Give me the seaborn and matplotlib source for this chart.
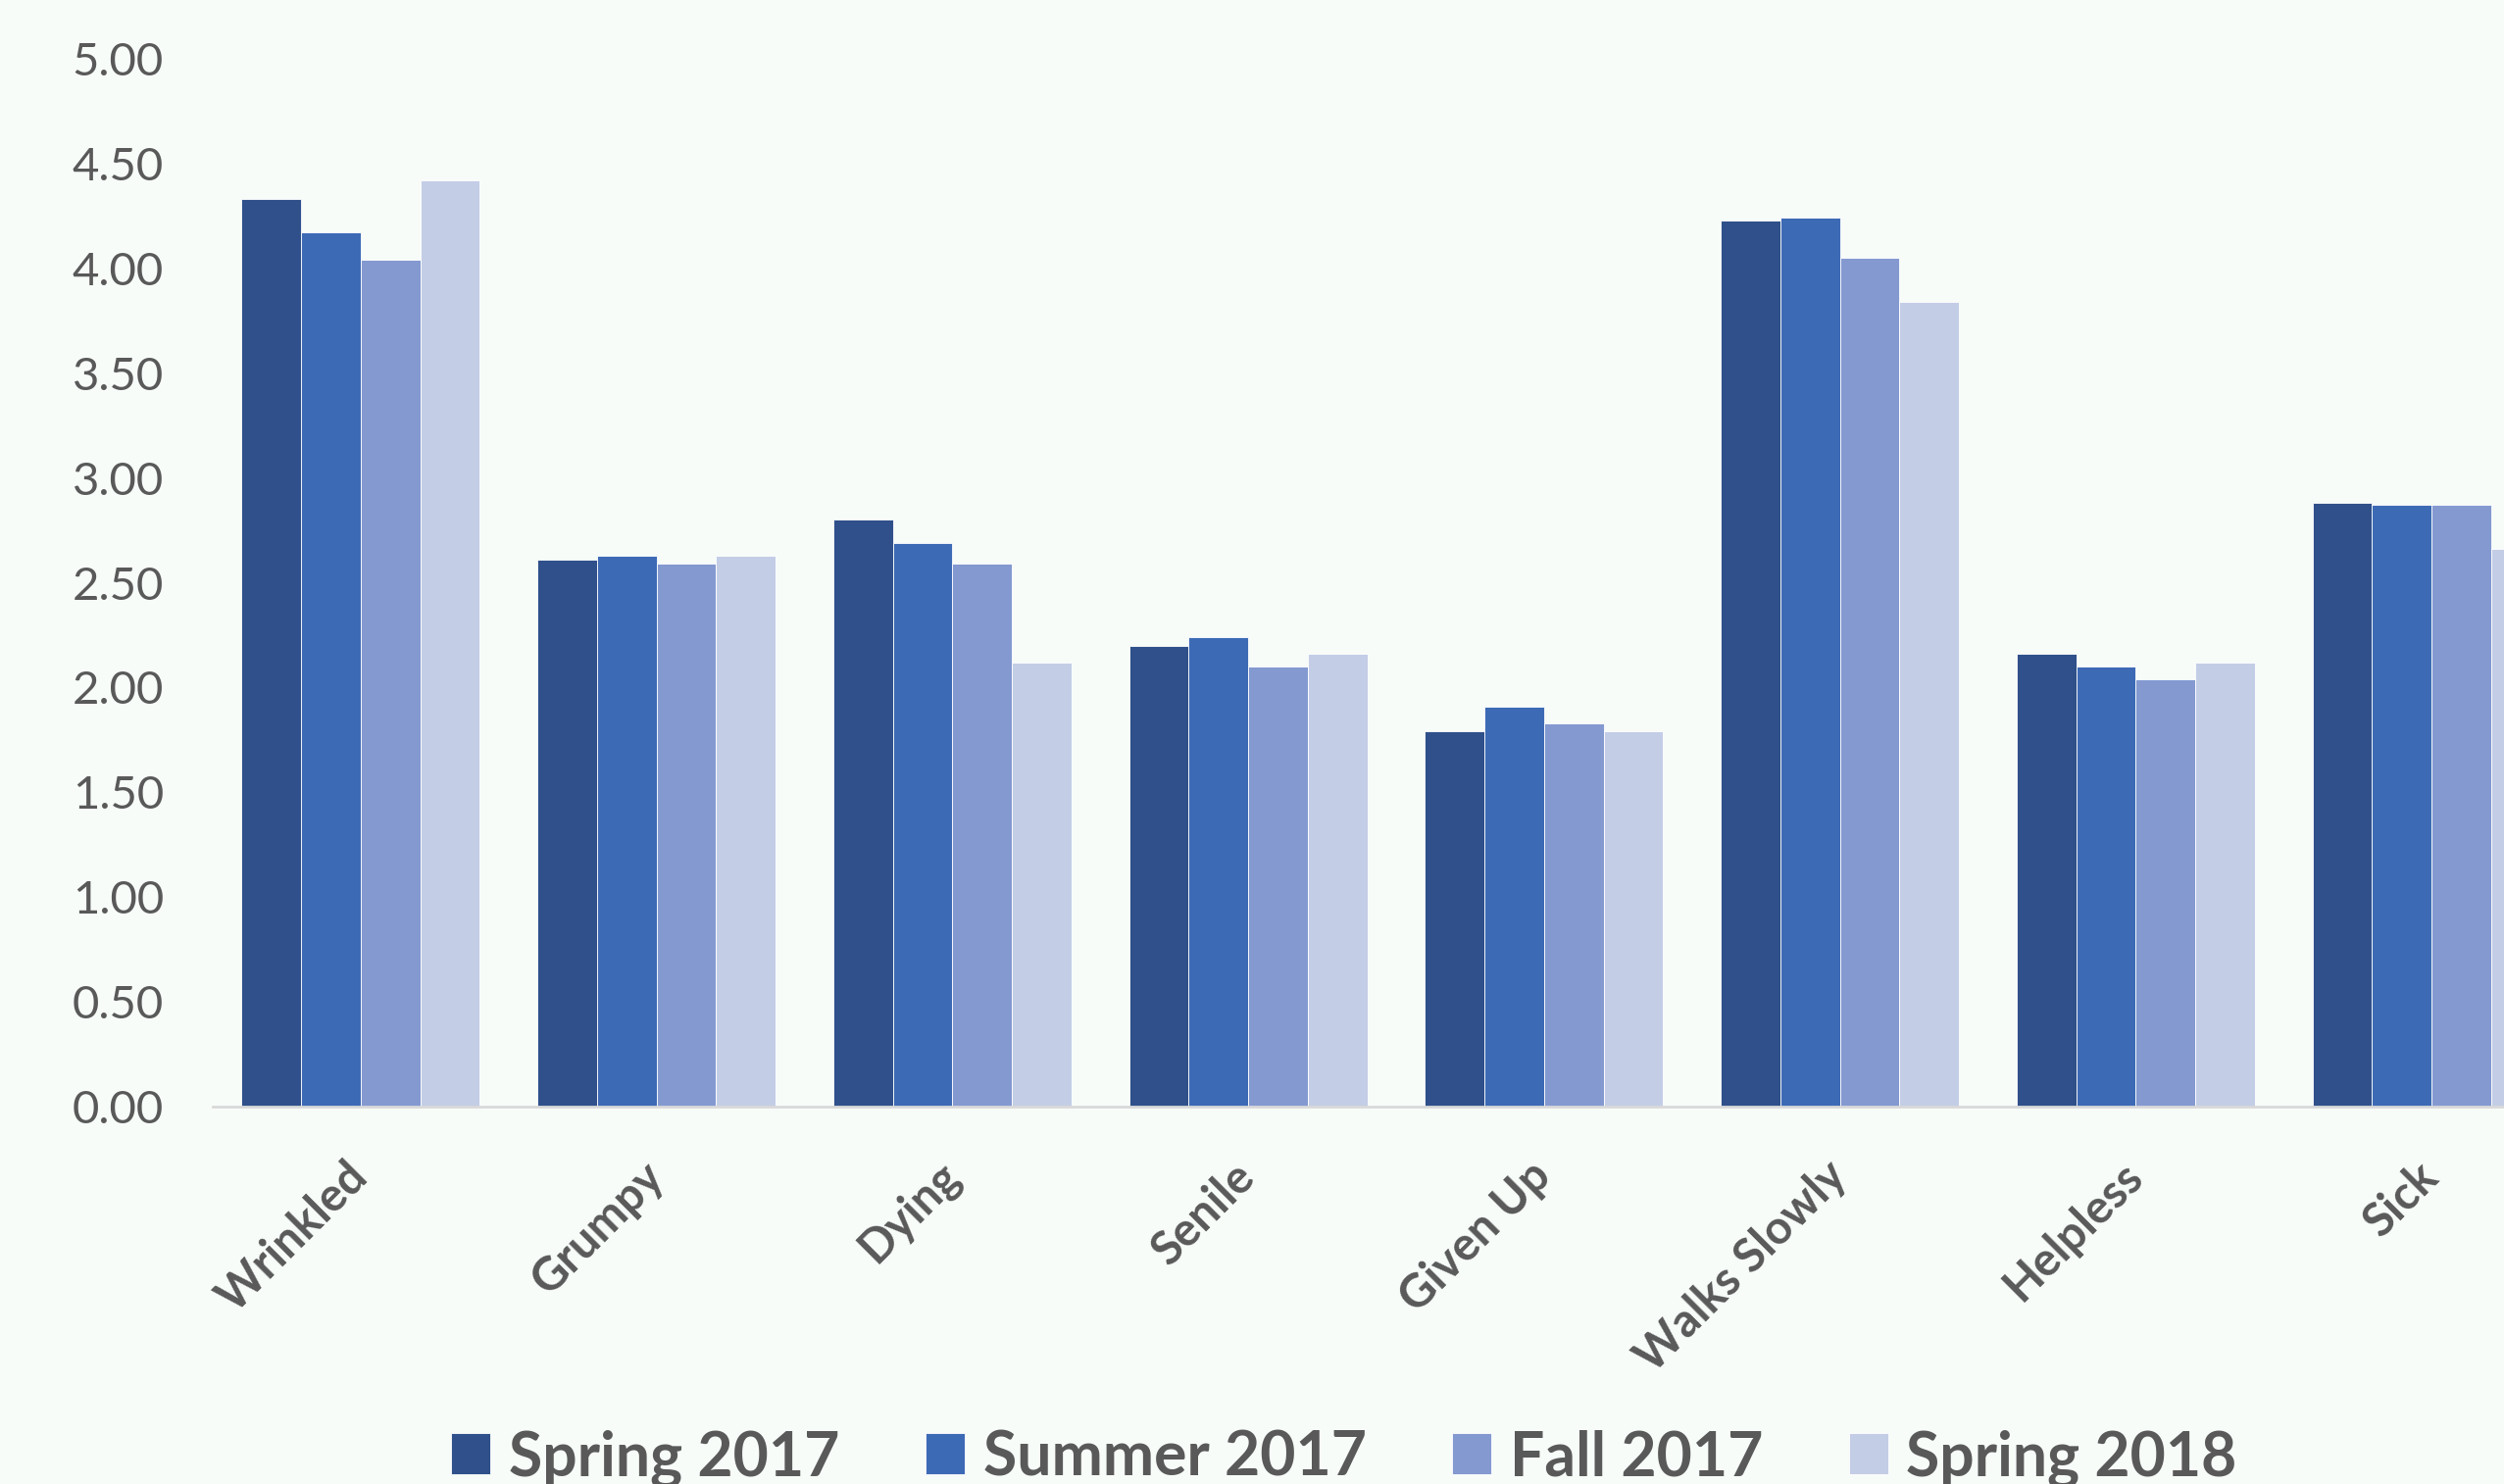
import pandas as pd
import seaborn as sns
import matplotlib.pyplot as plt

categories = ['Wrinkled', 'Grumpy', 'Dying', 'Senile', 'Given Up', 'Walks Slowly', 'Helpless', 'Sick']
terms = ['Spring 2017', 'Summer 2017', 'Fall 2017', 'Spring 2018']
spring_2017 = [4.33, 2.61, 2.80, 2.20, 1.79, 4.23, 2.16, 2.88]
summer_2017 = [4.17, 2.63, 2.69, 2.24, 1.91, 4.24, 2.10, 2.87]
fall_2017 = [4.04, 2.59, 2.59, 2.10, 1.83, 4.05, 2.04, 2.87]
spring_2018 = [4.42, 2.63, 2.12, 2.16, 1.79, 3.84, 2.12, 2.66]
colors = ['#2F508A', '#3D6AB5', '#8399D0', '#C3CDE6']

df = pd.DataFrame({
    'category': categories * 4,
    'term': [t for t in terms for _ in categories],
    'value': spring_2017 + summer_2017 + fall_2017 + spring_2018,
})

# ====
# plot
# ====

sns.set_style('white')
plt.rcParams['font.family'] = ['Lato', 'DejaVu Sans']
bg = '#F7FCF9'
text_color = '#595959'

fig = plt.figure(figsize=(25.54, 15.14), dpi=100, facecolor=bg)
ax = fig.add_axes([217 / 2554, 1 - 1129 / 1514, 1 - 217 / 2554, (1129 - 60) / 1514])
ax.set_facecolor(bg)

sns.barplot(data=df, x='category', y='value', hue='term', palette=colors, saturation=1,
    width=0.805, edgecolor='white', linewidth=0.6, ax=ax, legend=True)

ax.set_xlim(-0.5, 7.245)
ax.set_ylim(0, 5)
ax.set_yticks([i * 0.5 for i in range(11)])
ax.set_yticklabels(['%.2f' % (i * 0.5) for i in range(11)])
ax.set_xlabel('')
ax.set_ylabel('')

for s in ['top', 'right', 'left']:
    ax.spines[s].set_visible(False)
ax.spines['bottom'].set_color('#D9D9D9')
ax.spines['bottom'].set_linewidth(2)

ax.tick_params(axis='y', length=0, pad=36, labelsize=34, labelcolor=text_color)
ax.tick_params(axis='x', length=0, pad=46, labelsize=34, labelcolor=text_color)
for lbl in ax.get_xticklabels():
    lbl.set_rotation(45)
    lbl.set_ha('right')
    lbl.set_va('center')
    lbl.set_rotation_mode('anchor')
    lbl.set_fontweight('bold')

ax.get_legend().remove()
handles, labels = ax.get_legend_handles_labels()
leg = fig.legend(handles, labels, loc='center', bbox_to_anchor=(1371 / 2554, 1 - 1488 / 1514),
    ncol=4, frameon=False, handlelength=0.64, handleheight=0.64, handletextpad=0.3,
    columnspacing=1.4, prop={'size': 45, 'weight': 'bold'})
for t in leg.get_texts():
    t.set_color(text_color)

fig.savefig('out.png', dpi=100, facecolor=bg)
